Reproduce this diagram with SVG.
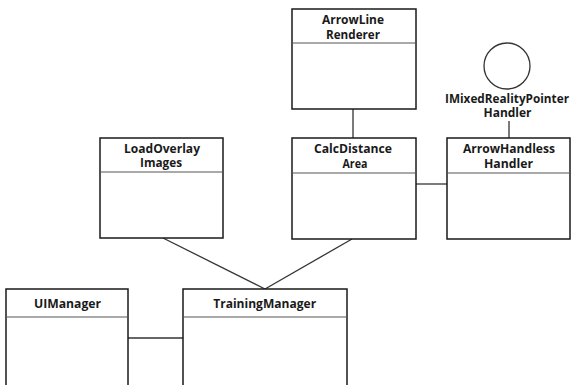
<svg xmlns="http://www.w3.org/2000/svg" width="571" height="385" viewBox="0 0 571 385">
  <style>
    .box { fill: #ffffff; stroke: #1a1a1a; stroke-width: 1.5; }
    .div { stroke: #555555; stroke-width: 1; }
    .lbl { font-family: "Open Sans", "Noto Sans", sans-serif; font-weight: 700; font-size: 13px; fill: #1a1a1a; text-anchor: middle; }
    .conn { stroke: #333333; stroke-width: 1.3; fill: none; }
  </style>
  <rect width="571" height="385" fill="#ffffff"/>

  <!-- associations -->
  <g id="connectors">
    <line class="conn" x1="353" y1="109" x2="353" y2="138"/>
    <line class="conn" x1="416" y1="184" x2="447" y2="184"/>
    <line class="conn" x1="509" y1="121" x2="509" y2="138"/>
    <line class="conn" x1="163" y1="238" x2="265" y2="289"/>
    <line class="conn" x1="352" y1="239" x2="265" y2="289"/>
    <line class="conn" x1="128" y1="338" x2="183" y2="338"/>
  </g>

  <g id="ArrowLineRenderer">
    <rect class="box" x="292" y="9" width="124" height="100"/>
    <line class="div" x1="292" y1="43" x2="416" y2="43"/>
    <text class="lbl" x="353" y="24" textLength="62" lengthAdjust="spacingAndGlyphs">ArrowLine</text>
    <text class="lbl" x="353" y="39" textLength="54" lengthAdjust="spacingAndGlyphs">Renderer</text>
  </g>

  <g id="IMixedRealityPointerHandler">
    <circle cx="507" cy="66" r="23" fill="#ffffff" stroke="#333333" stroke-width="1.3"/>
    <text class="lbl" x="507" y="103" textLength="124" lengthAdjust="spacingAndGlyphs">IMixedRealityPointer</text>
    <text class="lbl" x="507.5" y="117" textLength="48" lengthAdjust="spacingAndGlyphs">Handler</text>
  </g>

  <g id="CalcDistanceArea">
    <rect class="box" x="292" y="138" width="124" height="101"/>
    <line class="div" x1="292" y1="173" x2="416" y2="173"/>
    <text class="lbl" x="353" y="153" textLength="78" lengthAdjust="spacingAndGlyphs">CalcDistance</text>
    <text class="lbl" x="355" y="168" textLength="25" lengthAdjust="spacingAndGlyphs">Area</text>
  </g>

  <g id="ArrowHandlessHandler">
    <rect class="box" x="447" y="138" width="123" height="101"/>
    <line class="div" x1="447" y1="173" x2="570" y2="173"/>
    <text class="lbl" x="509" y="153" textLength="92" lengthAdjust="spacingAndGlyphs">ArrowHandless</text>
    <text class="lbl" x="508.5" y="168" textLength="49" lengthAdjust="spacingAndGlyphs">Handler</text>
  </g>

  <g id="LoadOverlayImages">
    <rect class="box" x="100" y="138" width="123" height="100"/>
    <line class="div" x1="100" y1="172" x2="223" y2="172"/>
    <text class="lbl" x="162" y="153" textLength="76" lengthAdjust="spacingAndGlyphs">LoadOverlay</text>
    <text class="lbl" x="161" y="167" textLength="42" lengthAdjust="spacingAndGlyphs">Images</text>
  </g>

  <g id="UIManager">
    <rect class="box" x="6" y="289" width="122" height="110"/>
    <line class="div" x1="6" y1="317" x2="128" y2="317"/>
    <text class="lbl" x="67.5" y="308" textLength="67" lengthAdjust="spacingAndGlyphs">UIManager</text>
  </g>

  <g id="TrainingManager">
    <rect class="box" x="183" y="289" width="164" height="110"/>
    <line class="div" x1="183" y1="317" x2="347" y2="317"/>
    <text class="lbl" x="264.7" y="308" textLength="103" lengthAdjust="spacingAndGlyphs">TrainingManager</text>
  </g>
</svg>
